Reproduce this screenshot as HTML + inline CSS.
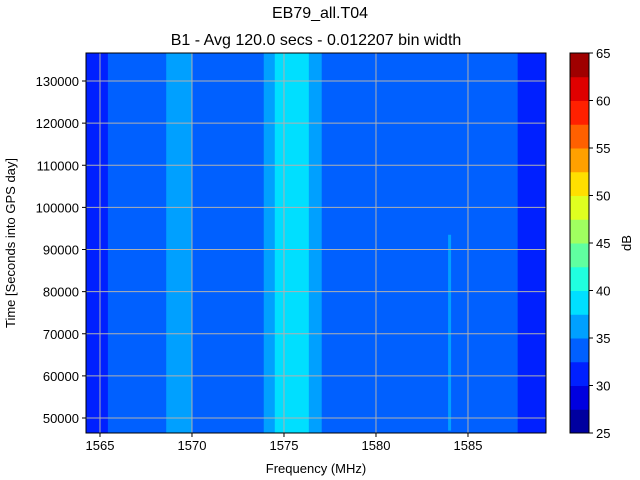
<!DOCTYPE html>
<html><head><meta charset="utf-8"><style>
body{margin:0;background:#fff;}
svg{display:block;font-family:"Liberation Sans","DejaVu Sans",sans-serif;}
</style></head><body>
<svg id="c" width="640" height="480"></svg>
<script>
// data
const bandStarts = [1564.24, 1565.43, 1568.6, 1570.0, 1573.9, 1574.5, 1576.35, 1577.05, 1587.7];
const bandLevels = [31, 33.75, 36, 33.75, 36, 38.75, 36, 33.75, 31];
const spikeFreqs = [1584.0];
const spikeStartTimes = [47000];
const spikeEndTimes = [93500];
const xTicks = [1565, 1570, 1575, 1580, 1585];
const yTicks = [50000, 60000, 70000, 80000, 90000, 100000, 110000, 120000, 130000];
const cbTicks = [25, 30, 35, 40, 45, 50, 55, 60, 65];
const cbColors = ["#00009f","#0000df","#0020ff","#0060ff","#00a0ff","#00dfff","#20ffdf","#60ffa0","#a0ff60","#dfff20","#ffdf00","#ffa000","#ff6000","#ff2000","#df0000","#9f0000"];

const L=86,R=546,T=53,B=433;
const fMin=1564.24,fMax=1589.24,tMin=46440,tMax=136650;
const sx=f=>L+(f-fMin)/(fMax-fMin)*(R-L);
const sy=t=>B-(t-tMin)/(tMax-tMin)*(B-T);
const cMin=25,cMax=65,cT=53,cB=433,cL=570,cR=589;
const cy=v=>cB-(v-cMin)/(cMax-cMin)*(cB-cT);
const col=v=>cbColors[Math.max(0,Math.min(15,Math.floor((v-cMin)/2.5)))];
const svg=document.getElementById('c');
const NS='http://www.w3.org/2000/svg';
function mk(tag,attrs,parent){const e=document.createElementNS(NS,tag);for(const k in attrs)e.setAttribute(k,attrs[k]);(parent||svg).appendChild(e);return e;}

for(let i=0;i<bandStarts.length;i++){
  const x0=sx(bandStarts[i]);const x1=i+1<bandStarts.length?sx(bandStarts[i+1]):R;
  const r=mk('rect',{x:x0,y:T,width:x1-x0+0.5,height:B-T,fill:col(bandLevels[i])});
  
  
}
for(let i=0;i<spikeFreqs.length;i++){
  const r=mk('rect',{x:sx(spikeFreqs[i])-1.5,y:sy(spikeEndTimes[i]),width:3,height:sy(spikeStartTimes[i])-sy(spikeEndTimes[i]),fill:col(36)});
  
  
}
xTicks.forEach(v=>{
  const g=mk('line',{x1:sx(v),x2:sx(v),y1:T,y2:B,stroke:'#b0b0b0','stroke-width':1});
  
  mk('line',{x1:sx(v),x2:sx(v),y1:B,y2:B+4,stroke:'#000'});
  const t=mk('text',{x:sx(v),y:B+17,'text-anchor':'middle','font-size':13});t.textContent=v;
  
});
yTicks.forEach(v=>{
  const g=mk('line',{x1:L,x2:R,y1:sy(v),y2:sy(v),stroke:'#b0b0b0','stroke-width':1});
  
  mk('line',{x1:L-4,x2:L,y1:sy(v),y2:sy(v),stroke:'#000'});
  const t=mk('text',{x:L-7,y:sy(v)+5,'text-anchor':'end','font-size':13});t.textContent=v;
  
});
mk('rect',{x:L,y:T,width:R-L,height:B-T,fill:'none',stroke:'#000','stroke-width':1});
for(let i=0;i<cbColors.length;i++){
  const r=mk('rect',{x:cL,y:cy(cMin+(i+1)*2.5),width:cR-cL,height:cy(cMin+i*2.5)-cy(cMin+(i+1)*2.5)+0.5,fill:cbColors[i]});
  
}
mk('rect',{x:cL,y:cT,width:cR-cL,height:cB-cT,fill:'none',stroke:'#000'});
cbTicks.forEach(v=>{
  mk('line',{x1:cR,x2:cR+4,y1:cy(v),y2:cy(v),stroke:'#000'});
  const t=mk('text',{x:cR+7,y:cy(v)+5,'font-size':13});t.textContent=v;
  
});
function txt(s,a,name){const t=mk('text',a);t.textContent=s;}
txt('EB79_all.T04',{x:320,y:18,'text-anchor':'middle','font-size':16},'chart-title');
txt('B1 - Avg 120.0 secs - 0.012207 bin width',{x:316,y:45,'text-anchor':'middle','font-size':16},'chart-subtitle');
txt('Frequency (MHz)',{x:316,y:473,'text-anchor':'middle','font-size':13},'x-axis-title');
txt('Time [Seconds into GPS day]',{x:15,y:243,'text-anchor':'middle','font-size':13,transform:'rotate(-90 15 243)'},'y-axis-title');
txt('dB',{x:631,y:243,'text-anchor':'middle','font-size':13,transform:'rotate(-90 631 243)'},'colorbar-title');
</script>
</body></html>
